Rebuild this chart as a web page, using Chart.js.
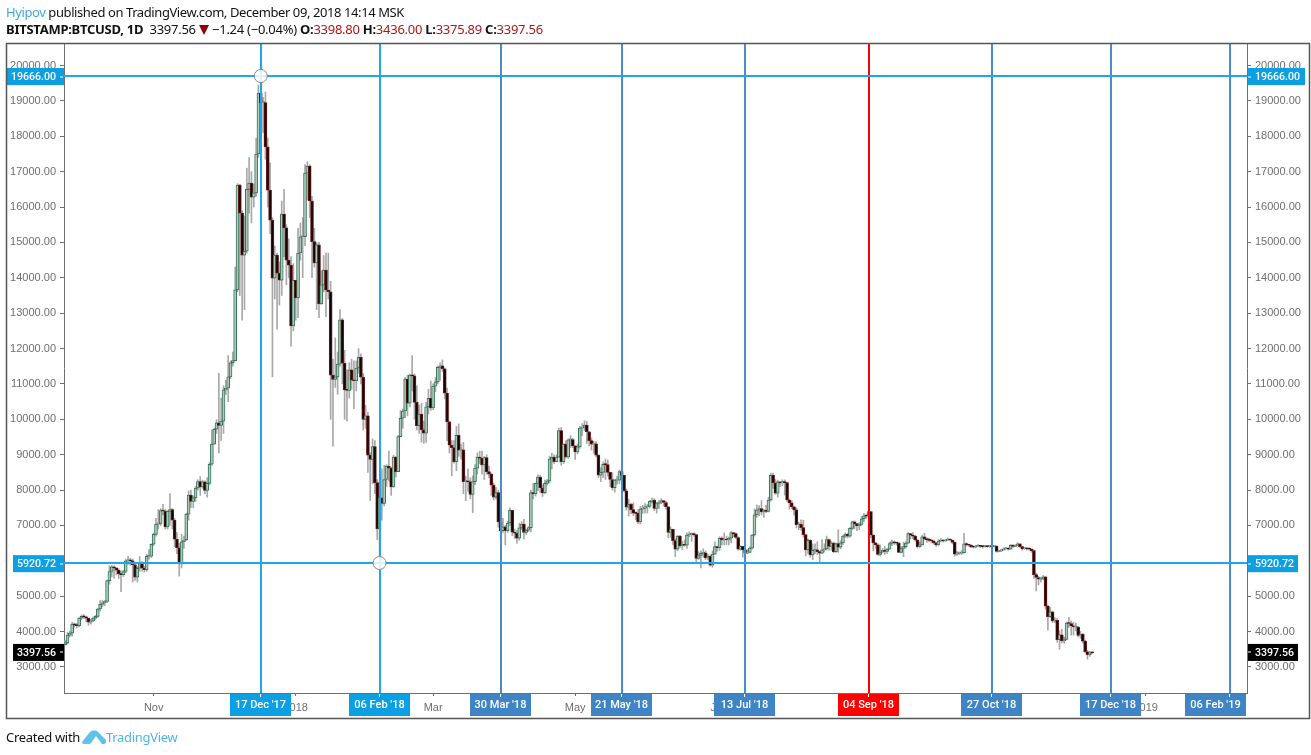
<!DOCTYPE html>
<html>
<head>
<meta charset="utf-8">
<title>BTCUSD</title>
<script src="https://cdn.jsdelivr.net/npm/chart.js@4/dist/chart.umd.min.js"></script>
<style>
  html, body { margin: 0; padding: 0; background: #fff; }
  #wrap { position: relative; width: 1311px; height: 755px; overflow: hidden; }
  #myChart { position: absolute; left: 0; top: 0; }
  .line { position: absolute; left: 6px; white-space: nowrap; font-family: "Noto Sans", sans-serif; font-size: 13px; color: #111; }
  #head1 { top: 3px; letter-spacing: -0.41px; }
  #head2 { top: 20px; letter-spacing: -0.26px; }
  #head1 .user { color: #3ba9e6; }
  #head2 b { font-weight: 700; }
  #head2 .v { color: #b01515; }
  #head2 .tri { display: inline-block; width: 0; height: 0; border-left: 5px solid transparent; border-right: 5px solid transparent; border-top: 10px solid #8f0000; vertical-align: -1px; }
  #foot { top: 728px; letter-spacing: -0.3px; }
  #foot .tv { color: #4eb6e8; position: absolute; left: 100px; top: 0; }
  #logo { position: absolute; left: 76px; top: 1px; }
</style>
</head>
<body>
<div id="wrap">
  <canvas id="myChart" width="1311" height="755"></canvas>
  <div class="line" id="head1"><span class="user">Hyipov</span> published on TradingView.com, December 09, 2018 14:14 MSK</div>
  <div class="line" id="head2"><b>BITSTAMP:BTCUSD, 1D</b>&nbsp; 3397.56 <span class="tri"></span> −1.24 (−0.04%) <b>O:</b><span class="v">3398.80</span> <b>H:</b><span class="v">3436.00</span> <b>L:</b><span class="v">3375.89</span> <b>C:</b><span class="v">3397.56</span></div>
  <div class="line" id="foot">Created with
    <svg id="logo" width="24" height="15" viewBox="0 0 24 15"><path d="M0 13 L8 3 Q9 1.500 11 1.500 L14 1.500 Q15 1.500 16 3 L24 11 L24 13 Q24 15 22 15 L20 15 L14 7 L9 14 Q8.500 15 7 15 L2 15 Q0 15 0 13 Z" fill="#5cc3ea"/></svg>
    <span class="tv">TradingView</span></div>
</div>

<script>
// daily candles, one row per month
var opens = [
  3630,3680,3900,3960,4210,4190,4170,
  4380,4430,4420,4380,4270,4300,4380,4430,4640,4770,4810,4850,5440,5700,5830,5800,5740,5640,5610,5700,6000,6030,6000,5890,5540,5790,5920,5790,5750,6130,6130,
  6470,6750,7040,7060,7420,7410,6960,7400,7450,7150,6610,6370,5910,6540,6590,7320,7860,7680,7780,8060,8240,8090,8230,7990,8190,8730,9300,9720,9900,9830,
  9950,10830,10880,11200,11600,11660,13660,16620,15830,14640,14750,16500,16680,16280,16400,17500,19220,18950,18950,17700,16480,15630,13990,14640,14130,13930,15800,15410,14500,14360,12640,
  13930,13430,14700,15160,15160,16960,17160,16170,15020,14420,14930,13260,13800,14220,13650,13600,11250,11130,11200,11560,12810,11590,10830,10820,11400,11110,11090,11450,11750,11190,10000,
  10100,8990,8870,9230,8210,6900,7780,7620,8300,8680,8620,8090,8930,8520,9510,10030,10240,11140,10460,11250,11230,10480,9820,10150,9700,9610,10350,10590,
  10320,10940,11060,11470,11510,11430,10740,9930,9270,9200,8800,9550,9130,9140,8240,8260,8230,7880,8240,8620,8930,8900,8710,8920,8520,8450,8140,7800,7930,7100,6850,
  6960,6850,7070,7430,6810,6780,6640,6930,7040,6800,6870,6940,7930,7900,8190,8370,8060,7920,8190,8260,8880,8930,8800,8930,9680,8800,9300,8940,9420,9430,
  9250,9080,9220,9750,9770,9840,9650,9400,9300,9310,8990,8420,8500,8730,8720,8500,8300,8070,8280,8280,8520,8420,7980,7520,7600,7450,7350,7340,7100,7460,7480,
  7530,7540,7680,7720,7480,7620,7660,7700,7650,7530,6800,6890,6570,6330,6700,6420,6470,6440,6730,6750,6760,6740,6070,6150,6210,6230,6080,6130,5880,6190,
  6400,6370,6640,6590,6610,6590,6640,6790,6770,6660,6330,6410,6310,6220,6240,6360,6730,7300,7440,7480,7380,7430,7400,7720,8420,8200,7910,8230,8200,8240,8210,
  7720,7640,7530,7440,7020,7030,6940,6740,6310,6580,6170,6300,6310,6260,6220,6310,6340,6600,6410,6500,6260,6490,6390,6510,6700,6750,6700,6920,7100,7050,6990,
  7030,7190,7270,7260,7390,6730,6510,6450,6180,6250,6300,6270,6330,6490,6540,6510,6500,6240,6350,6400,6500,6770,6730,6700,6590,6400,6450,6680,6630,6600,
  6580,6560,6510,6450,6560,6590,6560,6590,6610,6590,6520,6190,6220,6220,6230,6480,6460,6440,6400,6390,6420,6420,6410,6400,6420,6400,6410,6400,6410,6270,6280,
  6300,6340,6360,6330,6440,6410,6440,6480,6400,6340,6350,6340,6330,6290,5610,5530,5480,5480,5550,4720,4420,4560,4300,4320,3770,3910,3740,3780,4240,4230,
  4160,4130,4130,3890,3920,3730,3430,3350,3398.8
];
var highs = [
  3760,3980,4010,4260,4240,4230,4400,
  4470,4480,4440,4340,4350,4410,4460,4660,4880,4890,4880,5460,5860,5870,5860,5800,5780,5710,5740,6050,6130,6080,6050,5910,5840,6120,5980,5850,6190,6320,6480,
  6780,7200,7450,7480,7600,7450,7420,7900,7480,7200,6800,6500,6750,6700,7350,7980,8000,7830,8100,8290,8380,8280,8260,8350,8780,9700,9750,9990,11300,10600,
  10950,11100,11800,11650,11900,14300,16660,16640,15900,15750,17100,17400,17000,16650,17950,19450,19666,19100,19250,17950,17250,15700,14900,14700,14450,16170,16500,15500,15100,14600,14400,
  13900,15400,15550,15700,17200,17280,17200,16300,15400,15000,15000,14200,14630,14700,14700,13900,11700,12300,11900,13100,12850,11950,11400,11600,11700,11650,11650,12000,11850,11300,10400,
  10200,9050,9450,9400,8300,7950,8600,8700,8720,9100,8650,8980,8950,9550,10250,10300,11190,11250,11280,11800,11280,10950,10400,10450,9950,10480,10850,11080,
  11000,11180,11500,11600,11680,11450,10880,9950,9400,9400,9800,9870,9300,9350,8400,8600,8350,8400,8720,9050,9100,9100,8950,9000,8680,8480,8200,8080,8000,7230,7200,
  7000,7120,7500,7430,6900,6860,7060,7110,7170,6900,6970,8000,8190,8200,8430,8420,8150,8280,8300,8960,9040,9000,9000,9750,9770,9310,9390,9450,9540,9460,
  9260,9300,9800,9880,9960,9940,9660,9470,9380,9370,9000,8630,8800,8880,8850,8500,8490,8300,8390,8570,8580,8420,8030,7740,7630,7640,7380,7440,7540,7570,7620,
  7600,7700,7780,7760,7650,7700,7760,7700,7680,7540,6960,6900,6620,6720,6720,6550,6590,6790,6820,6790,6790,6750,6260,6280,6340,6280,6190,6170,6280,6540,
  6420,6680,6680,6790,6700,6670,6840,6790,6790,6680,6430,6400,6340,6320,6400,6750,7470,7580,7560,7700,7460,7570,7800,8480,8480,8300,8280,8240,8290,8290,8220,
  7750,7700,7540,7500,7090,7160,7150,6740,6620,6600,6480,6480,6540,6280,6600,6480,6700,6620,6550,6530,6500,6880,6570,6720,6790,6780,6940,7130,7130,7060,7080,
  7250,7340,7320,7410,7400,6740,6520,6480,6450,6350,6400,6350,6530,6590,6560,6530,6520,6400,6530,6540,6800,6780,6800,6720,6600,6540,6730,6780,6650,6640,
  6610,6590,6520,6600,6640,6600,6610,6650,6620,6590,6540,6260,6250,6290,6780,6510,6470,6460,6420,6440,6460,6430,6420,6440,6430,6430,6420,6430,6430,6300,6330,
  6370,6380,6370,6470,6460,6460,6510,6490,6410,6380,6370,6360,6340,6310,5650,5560,5540,5590,5560,4750,4680,4580,4400,4380,4030,4060,3840,4270,4400,4300,
  4260,4240,4150,4010,3950,3760,3470,3440,3436
];
var lows = [
  3620,3650,3850,3870,4130,4100,4130,
  4340,4370,4280,4180,4210,4290,4340,4400,4580,4700,4730,4820,5340,5550,5510,5600,5500,5130,5560,5660,5900,5870,5400,5450,5400,5700,5710,5680,5700,6050,6090,
  6430,6700,6900,7000,7300,6900,6900,7000,6900,6400,6200,5570,5800,6350,6570,7150,7500,7500,7680,8000,7850,8050,7900,7800,8150,8700,9300,9600,9050,9400,
  9600,10700,10500,11150,11500,11650,13600,13500,12800,13100,14700,15830,15550,16000,16300,17400,18700,18100,17350,16000,15250,11200,13400,12550,13230,13500,14600,13800,14000,12070,12500,
  12800,12870,14500,14000,14900,16200,15700,14000,14300,13100,12870,13250,13600,12900,13400,10000,9240,10900,10700,11500,11000,10000,9950,10600,10850,10300,10800,11300,11000,9700,9750,
  8500,7700,8180,7900,6600,5920.72,7150,7550,8100,8250,7850,8080,8370,8520,9750,9750,10050,10100,10350,10800,10000,9700,9600,9350,9320,9350,10150,10250,
  10270,10780,11000,11100,11350,10580,9400,9050,8400,8760,8550,8950,8880,7900,7700,7960,7750,7360,8150,8450,8750,8450,8300,8450,8350,7850,7720,7750,6950,6600,6800,
  6450,6800,7000,6710,6630,6500,6580,6880,6620,6740,6830,6820,7750,7830,7980,7920,7820,7900,8140,8210,8600,8750,8800,8930,8700,8750,8900,8900,9200,9200,
  8870,9020,9180,9540,9680,9320,9250,9130,9040,8940,8350,8240,8350,8300,8400,8100,8000,7940,8170,8180,8350,7950,7430,7270,7330,7280,7160,7050,7040,7340,7350,
  7350,7500,7630,7420,7350,7480,7610,7550,7460,6650,6670,6450,6120,6290,6380,6320,6410,6350,6680,6550,6700,5950,6040,5800,6100,6030,6030,5850,5820,6180,
  6270,6290,6450,6450,6460,6450,6510,6680,6630,6300,6300,6100,6130,6200,6240,6330,6700,7230,7270,7300,7230,7360,7380,7690,8050,7880,7800,8100,8120,7860,7680,
  7460,7480,7290,6930,6880,6860,6670,6140,6200,6100,6030,6200,6180,5950,6200,6250,6300,6300,6300,6230,6240,6240,6340,6460,6660,6650,6660,6880,6900,6850,6880,
  7000,7110,7200,7210,6660,6280,6340,6150,6130,6220,6180,6210,6330,6430,6460,6440,6230,6230,6120,6360,6500,6620,6630,6560,6360,6380,6440,6600,6520,6540,
  6510,6470,6410,6440,6540,6530,6550,6570,6560,6480,6130,6150,6180,6180,6220,6420,6410,6370,6360,6370,6400,6380,6360,6390,6380,6380,6380,6390,6240,6250,6260,
  6310,6330,6300,6320,6380,6400,6430,6380,6300,6330,6310,6300,6240,5500,5150,5320,5400,5470,4630,4040,4400,4260,4250,3700,3500,3680,3670,3760,4120,3900,
  3900,4020,3850,3810,3670,3400,3220,3300,3375.89
];
var closes = [
  3680,3900,3960,4210,4190,4170,4380,
  4430,4420,4380,4270,4300,4380,4430,4640,4770,4810,4850,5440,5700,5830,5800,5740,5640,5610,5700,6000,6030,6000,5890,5540,5790,5920,5790,5750,6130,6130,6470,
  6750,7040,7060,7420,7410,6960,7400,7450,7150,6610,6370,5910,6540,6590,7320,7860,7680,7780,8060,8240,8090,8230,7990,8190,8730,9300,9720,9900,9830,9950,
  10830,10880,11200,11600,11660,13660,16620,15830,14640,14750,16500,16680,16280,16400,17500,19220,18950,18950,17700,16480,15630,13990,14640,14130,13930,15800,15410,14500,14360,12640,13930,
  13430,14700,15160,15160,16960,17160,16170,15020,14420,14930,13260,13800,14220,13650,13600,11250,11130,11200,11560,12810,11590,10830,10820,11400,11110,11090,11450,11750,11190,10000,10100,
  8990,8870,9230,8210,6900,7780,7620,8300,8680,8620,8090,8930,8520,9510,10030,10240,11140,10460,11250,11230,10480,9820,10150,9700,9610,10350,10590,10320,
  10940,11060,11470,11510,11430,10740,9930,9270,9200,8800,9550,9130,9140,8240,8260,8230,7880,8240,8620,8930,8900,8710,8920,8520,8450,8140,7800,7930,7100,6850,6960,
  6850,7070,7430,6810,6780,6640,6930,7040,6800,6870,6940,7930,7900,8190,8370,8060,7920,8190,8260,8880,8930,8800,8930,9680,8800,9300,8940,9420,9430,9250,
  9080,9220,9750,9770,9840,9650,9400,9300,9310,8990,8420,8500,8730,8720,8500,8300,8070,8280,8280,8520,8420,7980,7520,7600,7450,7350,7340,7100,7460,7480,7530,
  7540,7680,7720,7480,7620,7660,7700,7650,7530,6800,6890,6570,6330,6700,6420,6470,6440,6730,6750,6760,6740,6070,6150,6210,6230,6080,6130,5880,6190,6400,
  6370,6640,6590,6610,6590,6640,6790,6770,6660,6330,6410,6310,6220,6240,6360,6730,7300,7440,7480,7380,7430,7400,7720,8420,8200,7910,8230,8200,8240,8210,7720,
  7640,7530,7440,7020,7030,6940,6740,6310,6580,6170,6300,6310,6260,6220,6310,6340,6600,6410,6500,6260,6490,6390,6510,6700,6750,6700,6920,7100,7050,6990,7030,
  7190,7270,7260,7390,6730,6510,6450,6180,6250,6300,6270,6330,6490,6540,6510,6500,6240,6350,6400,6500,6770,6730,6700,6590,6400,6450,6680,6630,6600,6580,
  6560,6510,6450,6560,6590,6560,6590,6610,6590,6520,6190,6220,6220,6230,6480,6460,6440,6400,6390,6420,6420,6410,6400,6420,6400,6410,6400,6410,6270,6280,6300,
  6340,6360,6330,6440,6410,6440,6480,6400,6340,6350,6340,6330,6290,5610,5530,5480,5480,5550,4720,4420,4560,4300,4320,3770,3910,3740,3780,4240,4230,4160,
  4130,4130,3890,3920,3730,3430,3350,3390,3397.56
];

// axis labels and ticks
var yTicks = [3000,4000,5000,6000,7000,8000,9000,10000,11000,12000,13000,14000,15000,16000,17000,18000,19000,20000];
var xTickDates = ['2017-11-01','2018-01-01','2018-03-01','2018-05-01','2018-07-01','2018-09-01','2018-11-01','2019-01-01'];
var xTickNames = ['Nov','2018','Mar','May','Jul','Sep','Nov','2019'];

// drawn levels and date markers
var priceLevels = [19666.00, 5920.72];
var lastPrice = 3397.56;
var cycleDates = ['2017-12-17','2018-02-06','2018-03-30','2018-05-21','2018-07-13','2018-09-04','2018-10-27','2018-12-17','2019-02-06'];
var cycleNames = ["17 Dec '17","06 Feb '18","30 Mar '18","21 May '18","13 Jul '18","04 Sep '18","27 Oct '18","17 Dec '18","06 Feb '19"];
var circleDates = ['2017-12-17','2018-02-06'];

// one category per day, the axis runs past the last candle
var days = [];
for (var d = Date.UTC(2017, 8, 24), n = 0; n < 508; n++, d += 86400000) {
  days.push(new Date(d).toISOString().slice(0, 10));
}

var wickData = lows.map(function (l, i) { return [l, highs[i]]; });
var bodyData = opens.map(function (o, i) { return [o, closes[i]]; });

var axisColor = '#6f6f6f';
var tickFont = { family: '"Liberation Sans", sans-serif', size: 11 };
var flagFont = '500 10.6px Roboto, sans-serif';
var dateFlagFont = '500 11px Roboto, sans-serif';

function isUp(ctx) {
  return closes[ctx.dataIndex] >= opens[ctx.dataIndex];
}

function cycleColor(i) {
  if (i < 2) return '#0b9fe3';
  if (i == 5) return '#ff0000';
  return '#3f84c5';
}

// horizontal price flag on both axes
function priceFlag(c, area, y, label, color, leftX, rightX) {
  c.fillStyle = color;
  c.fillRect(leftX, y - 8.5, area.left - leftX, 17);
  c.fillRect(area.right + 1, y - 8.5, rightX - area.right - 1, 17);
  c.fillStyle = '#fff';
  c.fillRect(area.left - 4, Math.round(y) - 0.5, 3, 1);
  c.fillRect(area.right + 1, Math.round(y) - 0.5, 3, 1);
  c.font = flagFont;
  c.textBaseline = 'middle';
  c.textAlign = 'right';
  c.fillText(label, area.left - 8, y + 0.5);
  c.textAlign = 'left';
  c.fillText(label, area.right + 8, y + 0.5);
}

var overlay = {
  id: 'overlay',
  afterDatasetsDraw: function (chart) {
    var c = chart.ctx, area = chart.chartArea;
    var xs = chart.scales.x, ys = chart.scales.y;
    c.save();

    // vertical markers
    cycleDates.forEach(function (date, i) {
      var x = Math.round(xs.getPixelForValue(days.indexOf(date)));
      c.fillStyle = i < 2 ? '#20a6ea' : (i == 5 ? '#ff0000' : '#4a8dcb');
      c.fillRect(x - 1, area.top, 2, area.bottom - area.top);
    });

    // horizontal levels
    priceLevels.forEach(function (p) {
      var y = Math.floor(ys.getPixelForValue(p) - 0.5);
      c.fillStyle = '#20a6ea';
      c.fillRect(area.left, y - 1, area.right - area.left, 2);
    });

    // circle handles
    circleDates.forEach(function (date, i) {
      var x = xs.getPixelForValue(days.indexOf(date));
      var y = Math.floor(ys.getPixelForValue(priceLevels[i]) - 0.5);
      c.beginPath();
      c.arc(x, y, 6.5, 0, Math.PI * 2);
      c.fillStyle = 'rgba(255,255,255,0.85)';
      c.fill();
      c.strokeStyle = '#888';
      c.lineWidth = 1;
      c.stroke();
    });

    // date flags under the axis, the last one stops at the right axis
    c.font = dateFlagFont;
    c.textAlign = 'center';
    c.textBaseline = 'middle';
    cycleDates.forEach(function (date, i) {
      var x = Math.round(xs.getPixelForValue(days.indexOf(date)));
      var left = Math.min(x - 31, area.right - 62);
      c.fillStyle = cycleColor(i);
      c.fillRect(left, area.bottom + 1, 61, 22);
      c.fillStyle = '#fff';
      c.fillRect(x - 1, area.bottom + 1, 1, 3);
      c.fillText(cycleNames[i], left + 30.5, area.bottom + 12);
    });

    // price flags
    priceFlag(c, area, ys.getPixelForValue(priceLevels[0]) - 0.8, priceLevels[0].toFixed(2), '#0b9fe3', 7, 1305);
    priceFlag(c, area, ys.getPixelForValue(priceLevels[1]), priceLevels[1].toFixed(2), '#0b9fe3', 13, 1298);
    priceFlag(c, area, ys.getPixelForValue(lastPrice) - 0.5, lastPrice.toFixed(2), '#000', 13, 1298);

    // outer frame
    c.strokeStyle = '#555';
    c.lineWidth = 1.5;
    c.strokeRect(6.5, 43.5, 1303, 675);
    c.restore();
  }
};

var yScale = function (position) {
  return {
    position: position,
    min: 2265,
    max: 20636,
    grid: { drawOnChartArea: false, drawTicks: true, tickLength: 4, color: axisColor },
    border: { color: axisColor, width: 1 },
    ticks: {
      color: '#6e6e6e',
      font: tickFont,
      padding: 4,
      autoSkip: false,
      callback: function (v) { return v.toFixed(2); }
    },
    afterBuildTicks: function (axis) {
      axis.ticks = yTicks.map(function (v) { return { value: v }; });
    },
    afterFit: function (axis) {
      axis.width = 64;
    }
  };
};

var ctx = document.getElementById('myChart').getContext('2d');
var myChart = new Chart(ctx, {
  type: 'bar',
  data: {
    labels: days,
    datasets: [
      {
        label: 'wick',
        data: wickData,
        order: 2,
        grouped: false,
        barThickness: 1,
        backgroundColor: '#a8a8a8',
        yAxisID: 'y'
      },
      {
        label: 'body',
        data: bodyData,
        order: 1,
        grouped: false,
        barThickness: 3,
        minBarLength: 1,
        borderWidth: 1,
        borderSkipped: false,
        backgroundColor: function (c) { return isUp(c) ? '#aecbb9' : '#150404'; },
        borderColor: function (c) { return isUp(c) ? '#35735a' : '#6a1a1a'; },
        yAxisID: 'y'
      }
    ]
  },
  options: {
    responsive: false,
    animation: false,
    events: [],
    layout: { padding: { left: 0, right: 0, top: 43, bottom: 37 } },
    plugins: {
      legend: { display: false },
      tooltip: { enabled: false },
      title: { display: false }
    },
    scales: {
      x: {
        type: 'category',
        offset: true,
        grid: { drawOnChartArea: false, drawTicks: true, tickLength: 3, color: axisColor, offset: false },
        border: { color: axisColor, width: 1 },
        ticks: {
          color: '#6e6e6e',
          font: tickFont,
          padding: 5,
          maxRotation: 0,
          autoSkip: false,
          callback: function (v) {
            return xTickNames[xTickDates.indexOf(days[v])];
          }
        },
        afterBuildTicks: function (axis) {
          axis.ticks = xTickDates.map(function (t) { return { value: days.indexOf(t) }; });
        },
        afterFit: function (axis) {
          axis.height = 25;
        }
      },
      y: yScale('left'),
      yRight: yScale('right')
    }
  },
  plugins: [overlay]
});
</script>
</body>
</html>
